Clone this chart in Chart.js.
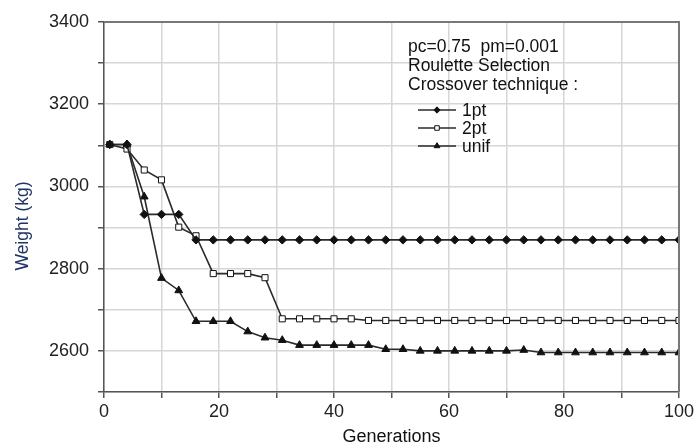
<!DOCTYPE html>
<html>
<head>
<meta charset="utf-8">
<script src="https://cdn.jsdelivr.net/npm/chart.js@4/dist/chart.umd.min.js"></script>
<style>
  html, body { margin: 0; padding: 0; background: #fff; }
  #wrap { width: 697px; height: 448px; position: relative; }
</style>
</head>
<body>
<div id="wrap"><canvas id="chart"></canvas></div>
<script>
// データ (読み取り値)
const generations = [1, 4, 7, 10, 13, 16, 19, 22, 25, 28, 31, 34, 37, 40, 43, 46, 49,
  52, 55, 58, 61, 64, 67, 70, 73, 76, 79, 82, 85, 88, 91, 94, 97, 100];
const onePt = [3102, 3102, 2932, 2932, 2932, 2870, 2870, 2870, 2870, 2870, 2870, 2870,
  2870, 2870, 2870, 2870, 2870, 2870, 2870, 2870, 2870, 2870, 2870, 2870, 2870, 2870,
  2870, 2870, 2870, 2870, 2870, 2870, 2870, 2870];
const twoPt = [3102, 3091, 3040, 3016, 2901, 2880, 2788, 2788, 2788, 2778, 2678, 2678,
  2678, 2678, 2678, 2674, 2674, 2674, 2674, 2674, 2674, 2674, 2674, 2674, 2674, 2674,
  2674, 2674, 2674, 2674, 2674, 2674, 2674, 2674];
const unif = [3102, 3102, 2975, 2777, 2747, 2672, 2672, 2672, 2647, 2632, 2626, 2614,
  2614, 2614, 2614, 2614, 2604, 2604, 2600, 2600, 2600, 2600, 2600, 2600, 2602, 2596,
  2596, 2596, 2596, 2596, 2596, 2596, 2596, 2596];
const seriesNames = ['1pt', '2pt', 'unif'];
const infoLines = ['pc=0.75  pm=0.001', 'Roulette Selection', 'Crossover technique :'];
const xTitle = 'Generations';
const yTitle = 'Weight (kg)';

const FONT = "'Liberation Sans', Arial, sans-serif";
const toPoints = vals => vals.map((v, i) => ({ x: generations[i], y: v }));

const lineStyle = {
  borderColor: '#2a2a2a',
  borderWidth: 1.6,
  tension: 0,
  pointBorderColor: '#111',
  pointBorderWidth: 1
};

const datasets = [
  Object.assign({}, lineStyle, {
    label: seriesNames[0], data: toPoints(onePt),
    pointStyle: 'rectRot', pointRadius: 4.2, pointBackgroundColor: '#111'
  }),
  Object.assign({}, lineStyle, {
    label: seriesNames[1], data: toPoints(twoPt),
    pointStyle: 'rect', pointRadius: 4.3, pointBackgroundColor: '#fff'
  }),
  Object.assign({}, lineStyle, {
    label: seriesNames[2], data: toPoints(unif),
    pointStyle: 'triangle', pointRadius: 4.5, pointBackgroundColor: '#111'
  })
];

// 凡例のマーカー
function drawMarker(ctx, style, r, x, y) {
  if (style === 'rect') {
    const s = r * Math.SQRT1_2;
    ctx.rect(x - s, y - s, s * 2, s * 2);
  } else if (style === 'rectRot') {
    ctx.moveTo(x, y - r);
    ctx.lineTo(x + r, y);
    ctx.lineTo(x, y + r);
    ctx.lineTo(x - r, y);
    ctx.closePath();
  } else {
    ctx.moveTo(x, y - r);
    ctx.lineTo(x + r * 0.866, y + r * 0.5);
    ctx.lineTo(x - r * 0.866, y + r * 0.5);
    ctx.closePath();
  }
}

// 枠・凡例・Y軸タイトル
const decorPlugin = {
  id: 'decor',
  afterDraw(chart) {
    const ctx = chart.ctx;
    const a = chart.chartArea;
    ctx.save();
    // 上と右の枠
    ctx.strokeStyle = '#777';
    ctx.lineWidth = 2;
    ctx.beginPath();
    ctx.moveTo(a.left, a.top);
    ctx.lineTo(a.right, a.top);
    ctx.lineTo(a.right, a.bottom);
    ctx.stroke();

    // 説明テキスト
    ctx.fillStyle = '#111';
    ctx.font = '17.5px ' + FONT;
    ctx.textBaseline = 'middle';
    ctx.textAlign = 'left';
    infoLines.forEach((t, i) => ctx.fillText(t, 408, 47 + i * 19));

    // 凡例
    chart.data.datasets.forEach((ds, i) => {
      const y = 110 + i * 18;
      ctx.strokeStyle = ds.borderColor;
      ctx.lineWidth = 1.3;
      ctx.beginPath();
      ctx.moveTo(418, y);
      ctx.lineTo(456, y);
      ctx.stroke();
      ctx.fillStyle = ds.pointBackgroundColor;
      ctx.strokeStyle = ds.pointBorderColor;
      ctx.lineWidth = 1;
      ctx.beginPath();
      drawMarker(ctx, ds.pointStyle, ds.pointRadius * 0.75, 437, y);
      ctx.fill();
      ctx.stroke();
      ctx.fillStyle = '#111';
      ctx.fillText(ds.label, 462, y + 1);
    });

    // Y軸タイトル
    ctx.translate(23, 226);
    ctx.rotate(-Math.PI / 2);
    ctx.textAlign = 'center';
    ctx.fillStyle = '#1f3564';
    ctx.font = '17.5px ' + FONT;
    ctx.fillText(yTitle, 0, 0);
    ctx.restore();
  }
};

new Chart(document.getElementById('chart'), {
  type: 'line',
  data: { datasets },
  options: {
    responsive: true,
    maintainAspectRatio: false,
    animation: false,
    layout: { padding: { top: 22, right: 16, left: 0, bottom: 0 } },
    plugins: {
      legend: { display: false },
      tooltip: { enabled: false }
    },
    scales: {
      x: {
        type: 'linear',
        min: 0,
        max: 100,
        afterFit: s => { s.height = 56; },
        border: { display: true, color: '#555', width: 1.5 },
        grid: { color: '#d6d6d6', lineWidth: 1.5, tickLength: 6, tickColor: '#555' },
        ticks: {
          stepSize: 10,
          autoSkip: false,
          maxRotation: 0,
          padding: 3,
          color: '#222',
          font: { family: FONT, size: 18 },
          callback: v => (v % 20 === 0 ? v : '')
        },
        title: {
          display: true,
          text: xTitle,
          color: '#111',
          font: { family: FONT, size: 18 },
          padding: { top: 4, bottom: 0 }
        }
      },
      y: {
        min: 2500,
        max: 3400,
        afterFit: s => { s.width = 104; },
        border: { display: true, color: '#555', width: 1.5 },
        grid: { color: '#d6d6d6', lineWidth: 1.5, tickLength: 6, tickColor: '#555' },
        ticks: {
          stepSize: 100,
          autoSkip: false,
          padding: 9,
          color: '#222',
          font: { family: FONT, size: 18 },
          callback: v => (v % 200 === 0 ? v : '')
        }
      }
    }
  },
  plugins: [decorPlugin]
});
</script>
</body>
</html>
